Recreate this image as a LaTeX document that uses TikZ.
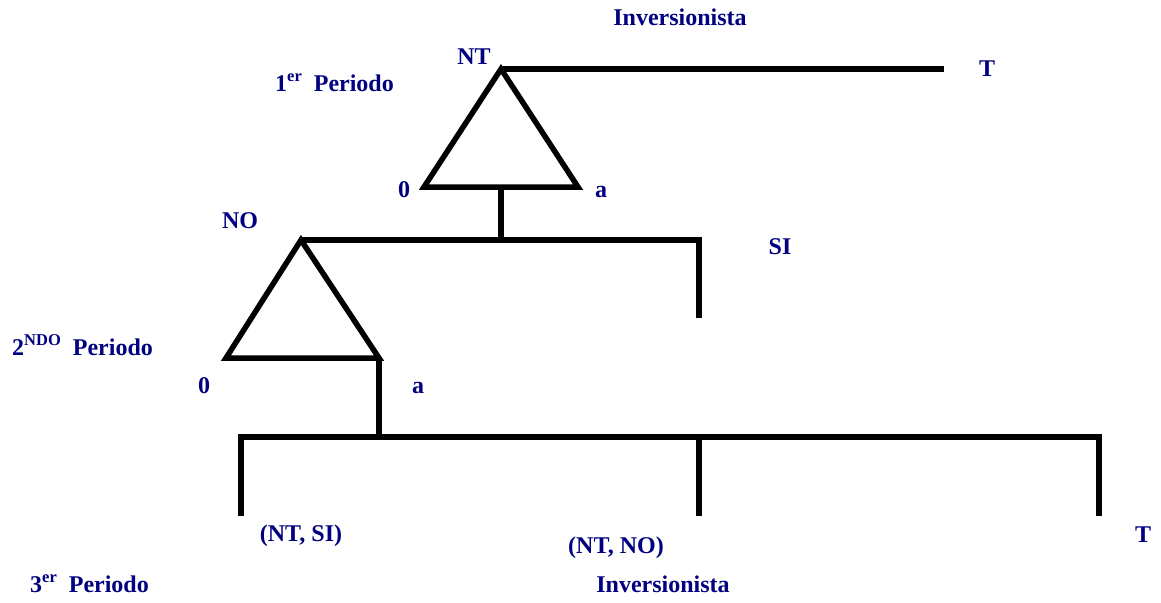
\documentclass[tikz,border=0pt]{standalone}
\usepackage{fontspec}
\setmainfont{Liberation Serif}
\definecolor{labnavy}{RGB}{0,0,128}
\newcommand{\supx}[1]{\raisebox{10pt}{\fontsize{16.5}{16.5}\selectfont #1}}
\begin{document}
\begin{tikzpicture}[x=1pt,y=-1pt,
  lab/.style={inner sep=0pt,anchor=base,text=labnavy,font=\fontsize{24}{28}\selectfont\bfseries},
  labw/.style={lab,anchor=base west},
  branch/.style={line width=5.5pt,black}]
\useasboundingbox (0,0) rectangle (1161,602);
% coordinates
\coordinate (a1) at (501,69);
\coordinate (t1) at (944,69);
\coordinate (l1) at (424,187);
\coordinate (r1) at (578,187);
\coordinate (m1) at (501,187);
\coordinate (m1b) at (501,240);
\coordinate (a2) at (301,240);
\coordinate (h2r) at (699,240);
\coordinate (v2) at (699,318);
\coordinate (l2) at (226,358);
\coordinate (r2) at (379,358);
\coordinate (m2b) at (379,437);
\coordinate (h3l) at (241,437);
\coordinate (h3m) at (699,437);
\coordinate (h3r) at (1099,437);
\coordinate (e1) at (241,516);
\coordinate (e2) at (699,516);
\coordinate (e3) at (1099,516);
% branches
\draw[branch] (a1) -- (t1);
\draw[branch] (l1) -- (a1) -- (r1) -- cycle;
\draw[branch] (m1) -- (m1b);
\draw[branch] (a2) -- (h2r) -- (v2);
\draw[branch] (l2) -- (a2) -- (r2) -- cycle;
\draw[branch] (r2) -- (m2b);
\draw[branch] (e1) -- (h3l) -- (h3r) -- (e3);
\draw[branch] (h3m) -- (e2);
% labels
\node[lab] (inv1) at (680,26) {Inversionista};
\node[lab] (nt) at (474,65) {NT};
\node[lab] (tt) at (987,77) {T};
\node[labw] (p1) at (275,92) {1\supx{er}\ \ Periodo};
\node[lab] (z1) at (404,197) {0};
\node[lab] (a1l) at (601,197) {a};
\node[lab] (no) at (240,228) {NO};
\node[lab] (si) at (780,254) {SI};
\node[labw] (p2) at (12,355) {2\supx{NDO}\ \ Periodo};
\node[lab] (z2) at (204,393) {0};
\node[lab] (a2l) at (418,393) {a};
\node[lab] (ntsi) at (301,541) {(NT, SI)};
\node[lab] (ntno) at (616,553) {(NT, NO)};
\node[lab] (tb) at (1143,542) {T};
\node[labw] (p3) at (30,592) {3\supx{er}\ \ Periodo};
\node[lab] (inv2) at (663,592) {Inversionista};
\end{tikzpicture}
\end{document}
